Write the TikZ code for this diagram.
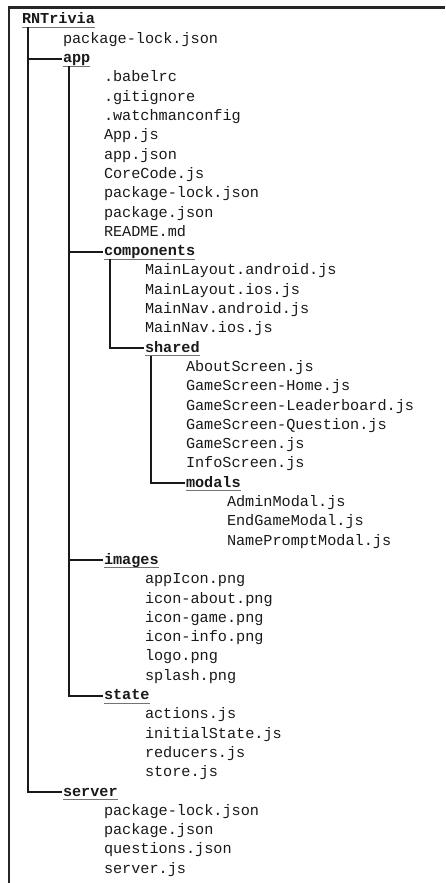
\documentclass[tikz,border=0pt]{standalone}
\usepackage{fontspec}
\setmonofont{Liberation Mono}
\usepackage{tikz}
\usetikzlibrary{calc}
\tikzset{
	file/.style={anchor=base west,inner sep=0pt,outer sep=0pt,font=\fontsize{15.2}{18}\ttfamily,text=black!90},
	folder/.style={file,font=\fontsize{15.2}{18}\ttfamily\bfseries},
	uline/.style={draw=black!55,line width=0.9pt},
	tree/.style={draw=black!90,line width=2pt},
	frame/.style={draw=black!85,line width=2.4pt}
}
\begin{document}
\begin{tikzpicture}[x=1pt,y=1pt]
	\useasboundingbox (0,0) rectangle (445,-883);
	\draw[frame] (9,-883) -- (9,-7.5) -- (445,-7.5);

	\node[folder] (root) at (22,-24) {RNTrivia};
	\node[file] (lock) at ($(root.base west) + (41,-19.3)$) {package-lock.json};
	\node[folder] (app) at ($(lock.base west) + (0,-19.3)$) {app};
	\node[file] (babelrc) at ($(app.base west) + (41,-19.3)$) {.babelrc};
	\node[file] (gitignore) at ($(babelrc.base west) + (0,-19.3)$) {.gitignore};
	\node[file] (watchman) at ($(gitignore.base west) + (0,-19.3)$) {.watchmanconfig};
	\node[file] (appjs) at ($(watchman.base west) + (0,-19.3)$) {App.js};
	\node[file] (appjson) at ($(appjs.base west) + (0,-19.3)$) {app.json};
	\node[file] (corecode) at ($(appjson.base west) + (0,-19.3)$) {CoreCode.js};
	\node[file] (applock) at ($(corecode.base west) + (0,-19.3)$) {package-lock.json};
	\node[file] (apppkg) at ($(applock.base west) + (0,-19.3)$) {package.json};
	\node[file] (readme) at ($(apppkg.base west) + (0,-19.3)$) {README.md};

	% components and its subfolders
	\node[folder] (components) at ($(readme.base west) + (0,-19.3)$) {components};
	\node[file] (layoutandroid) at ($(components.base west) + (41,-19.3)$) {MainLayout.android.js};
	\node[file] (layoutios) at ($(layoutandroid.base west) + (0,-19.3)$) {MainLayout.ios.js};
	\node[file] (navandroid) at ($(layoutios.base west) + (0,-19.3)$) {MainNav.android.js};
	\node[file] (navios) at ($(navandroid.base west) + (0,-19.3)$) {MainNav.ios.js};
	\node[folder] (shared) at ($(navios.base west) + (0,-19.3)$) {shared};
	\node[file] (about) at ($(shared.base west) + (41,-19.3)$) {AboutScreen.js};
	\node[file] (gamehome) at ($(about.base west) + (0,-19.3)$) {GameScreen-Home.js};
	\node[file] (gameleader) at ($(gamehome.base west) + (0,-19.3)$) {GameScreen-Leaderboard.js};
	\node[file] (gamequestion) at ($(gameleader.base west) + (0,-19.3)$) {GameScreen-Question.js};
	\node[file] (gamescreen) at ($(gamequestion.base west) + (0,-19.3)$) {GameScreen.js};
	\node[file] (info) at ($(gamescreen.base west) + (0,-19.3)$) {InfoScreen.js};
	\node[folder] (modals) at ($(info.base west) + (0,-19.3)$) {modals};
	\node[file] (admin) at ($(modals.base west) + (41,-19.3)$) {AdminModal.js};
	\node[file] (endgame) at ($(admin.base west) + (0,-19.3)$) {EndGameModal.js};
	\node[file] (nameprompt) at ($(endgame.base west) + (0,-19.3)$) {NamePromptModal.js};

	\node[folder] (images) at ($(nameprompt.base west) + (-123,-19.3)$) {images};
	\node[file] (appicon) at ($(images.base west) + (41,-19.3)$) {appIcon.png};
	\node[file] (iconabout) at ($(appicon.base west) + (0,-19.3)$) {icon-about.png};
	\node[file] (icongame) at ($(iconabout.base west) + (0,-19.3)$) {icon-game.png};
	\node[file] (iconinfo) at ($(icongame.base west) + (0,-19.3)$) {icon-info.png};
	\node[file] (logo) at ($(iconinfo.base west) + (0,-19.3)$) {logo.png};
	\node[file] (splash) at ($(logo.base west) + (0,-19.3)$) {splash.png};

	\node[folder] (state) at ($(splash.base west) + (-41,-19.3)$) {state};
	\node[file] (actions) at ($(state.base west) + (41,-19.3)$) {actions.js};
	\node[file] (initial) at ($(actions.base west) + (0,-19.3)$) {initialState.js};
	\node[file] (reducers) at ($(initial.base west) + (0,-19.3)$) {reducers.js};
	\node[file] (store) at ($(reducers.base west) + (0,-19.3)$) {store.js};

	\node[folder] (server) at ($(store.base west) + (-82,-19.3)$) {server};
	\node[file] (srvlock) at ($(server.base west) + (41,-19.3)$) {package-lock.json};
	\node[file] (srvpkg) at ($(srvlock.base west) + (0,-19.3)$) {package.json};
	\node[file] (questions) at ($(srvpkg.base west) + (0,-19.3)$) {questions.json};
	\node[file] (serverjs) at ($(questions.base west) + (0,-19.3)$) {server.js};

	% folder underlines
	\draw[uline] ($(root.base west) + (0,-3.5)$) -- ($(root.base east) + (0,-3.5)$);
	\draw[uline] ($(app.base west) + (0,-3.5)$) -- ($(app.base east) + (0,-3.5)$);
	\draw[uline] ($(components.base west) + (0,-3.5)$) -- ($(components.base east) + (0,-3.5)$);
	\draw[uline] ($(shared.base west) + (0,-3.5)$) -- ($(shared.base east) + (0,-3.5)$);
	\draw[uline] ($(modals.base west) + (0,-3.5)$) -- ($(modals.base east) + (0,-3.5)$);
	\draw[uline] ($(images.base west) + (0,-3.5)$) -- ($(images.base east) + (0,-3.5)$);
	\draw[uline] ($(state.base west) + (0,-3.5)$) -- ($(state.base east) + (0,-3.5)$);
	\draw[uline] ($(server.base west) + (0,-3.5)$) -- ($(server.base east) + (0,-3.5)$);

	% tree branches
	\draw[tree] ($(root.base west) + (5.5,-3.5)$) |- ($(app.base west) + (-1,4)$);
	\draw[tree] ($(root.base west) + (5.5,-3.5)$) |- ($(server.base west) + (-1,4)$);
	\draw[tree] ($(app.base west) + (5.5,-3.5)$) |- ($(components.base west) + (-1,4)$);
	\draw[tree] ($(app.base west) + (5.5,-3.5)$) |- ($(images.base west) + (-1,4)$);
	\draw[tree] ($(app.base west) + (5.5,-3.5)$) |- ($(state.base west) + (-1,4)$);
	\draw[tree] ($(components.base west) + (5.5,-3.5)$) |- ($(shared.base west) + (-1,4)$);
	\draw[tree] ($(shared.base west) + (5.5,-3.5)$) |- ($(modals.base west) + (-1,4)$);
\end{tikzpicture}
\end{document}
